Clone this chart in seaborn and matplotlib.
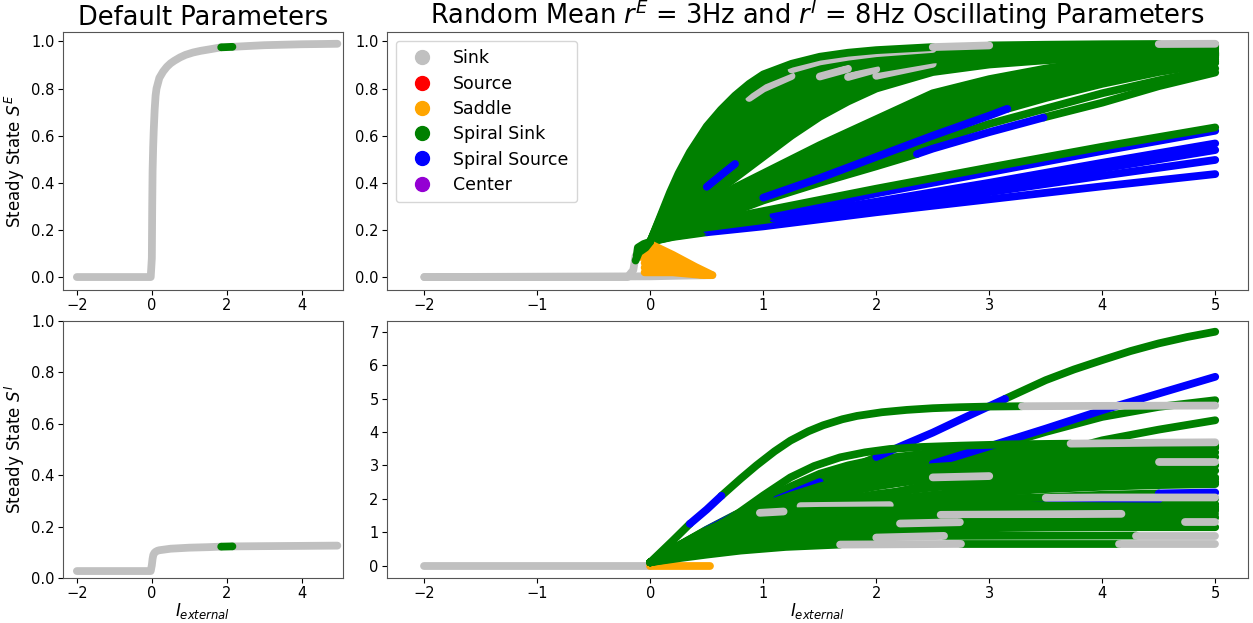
import numpy as np
import pandas as pd
import matplotlib
matplotlib.use("Agg")
import matplotlib.pyplot as plt
from matplotlib.lines import Line2D
import seaborn as sns

# ---------------- data ----------------
STATE_NAMES = {"K": "Sink", "R": "Source", "S": "Saddle", "G": "Spiral Sink",
               "B": "Spiral Source", "C": "Center"}
LEGEND_LABELS = ["Sink", "Source", "Saddle", "Spiral Sink", "Spiral Source", "Center"]
LEGEND_COLORS = ["silver", "red", "orange", "green", "blue", "darkviolet"]

# ---- Default parameters, S^E ----
DEF_E_X = [-2, -0.03, 0, 0.01, 0.02, 0.035, 0.05, 0.075, 0.1, 0.125, 0.2, 0.3, 0.4, 0.5,
           0.6, 0.75, 0.9, 1.1, 1.3, 1.6, 1.85, 2.15, 2.5, 3, 3.5, 4, 4.5, 4.95]
DEF_E_Y = [0, 0, 0.08, 0.3, 0.45, 0.55, 0.62, 0.71, 0.77, 0.8, 0.845, 0.872, 0.892, 0.907,
           0.918, 0.932, 0.943, 0.953, 0.96, 0.968, 0.975, 0.977, 0.98, 0.984, 0.986, 0.988, 0.989, 0.99]
DEF_E_S = "K" * 20 + "G" + "K" * 6
# ---- Default parameters, S^I ----
DEF_I_X = [-2, -0.03, 0, 0.02, 0.04, 0.07, 0.1, 0.15, 0.2, 0.35, 0.5, 0.75, 1, 1.5,
           1.85, 2.15, 3, 4, 4.95]
DEF_I_Y = [0.027, 0.027, 0.05, 0.075, 0.09, 0.098, 0.102, 0.106, 0.108, 0.111, 0.114,
           0.116, 0.118, 0.12, 0.122, 0.123, 0.124, 0.125, 0.126]
DEF_I_S = "K" * 14 + "G" + "K" * 3

# ---- Random parameters, S^E ----
E_LOW_X = [-2, 0, 0.3, 0.55]
E_LOW_Y = [0.0, 0.003, 0.006, 0.008]
E_STEM_X = [-2, -0.2, -0.15, -0.13]
E_STEM_Y = [0.0, 0.0, 0.03, 0.09]
E_BLOB1_X = [-0.12, -0.11, -0.06, 0]
E_BLOB1_Y = [0.09, 0.125, 0.14, 0.15]
E_BLOB2_X = [-0.13, -0.1, -0.04, 0]
E_BLOB2_Y = [0.07, 0.105, 0.125, 0.15]
E_O1_X = [-0.08, 0, 0.2, 0.4, 0.55]
E_O1_Y = [0.125, 0.14, 0.094, 0.043, 0.008]
E_O6_X = [-0.06, 0, 0.2, 0.4, 0.53]
E_O6_Y = [0.105, 0.115, 0.08, 0.037, 0.008]
E_O2_X = [-0.08, 0, 0.2, 0.4, 0.52]
E_O2_Y = [0.085, 0.095, 0.066, 0.03, 0.008]
E_O3_X = [-0.05, 0, 0.2, 0.4, 0.5]
E_O3_Y = [0.06, 0.07, 0.05, 0.022, 0.008]
E_O4_X = [-0.05, 0.05, 0.25, 0.45]
E_O4_Y = [0.04, 0.045, 0.032, 0.01]
E_O5_X = [-0.05, 0.2, 0.48]
E_O5_Y = [0.02, 0.02, 0.008]

GRID_U = [0, 0.05, 0.1, 0.175, 0.25, 0.35, 0.5, 0.625, 0.75, 0.875, 1, 1.25, 1.5, 1.75,
          2, 2.5, 3, 3.5, 4, 4.5, 5]
E_U1_Y = [0.15, 0.21, 0.27, 0.36, 0.44, 0.53, 0.64, 0.71, 0.77, 0.82, 0.86, 0.905, 0.935,
          0.952, 0.963, 0.976, 0.983, 0.986, 0.988, 0.989, 0.99]
E_U1_S = "GGGGGGGGGGGGGGGKGGGK"
E_U1B_Y = [0.15, 0.207, 0.264, 0.348, 0.424, 0.51, 0.615, 0.683, 0.742, 0.792, 0.832, 0.881,
           0.915, 0.935, 0.95, 0.968, 0.976, 0.98, 0.983, 0.984, 0.986]
E_U1B_S = "GGGGGGGGGGGKKKKGGGGG"
E_U2A_Y = [0.15, 0.205, 0.26, 0.342, 0.415, 0.499, 0.601, 0.668, 0.726, 0.776, 0.816, 0.867,
           0.904, 0.926, 0.943, 0.963, 0.973, 0.977, 0.98, 0.982, 0.984]
E_U2_Y = [0.15, 0.203, 0.256, 0.335, 0.406, 0.488, 0.587, 0.653, 0.71, 0.76, 0.8, 0.853,
          0.892, 0.917, 0.935, 0.958, 0.969, 0.974, 0.977, 0.979, 0.981]
E_U2_S = "GGGGGGGGGKKGGGGGGGGG"
E_U3A_Y = [0.15, 0.2, 0.25, 0.324, 0.39, 0.468, 0.563, 0.627, 0.683, 0.732, 0.773, 0.829,
           0.872, 0.901, 0.922, 0.95, 0.963, 0.969, 0.972, 0.975, 0.977]
E_U3_Y = [0.15, 0.197, 0.244, 0.312, 0.374, 0.447, 0.538, 0.6, 0.655, 0.703, 0.745, 0.804,
          0.851, 0.884, 0.909, 0.941, 0.956, 0.963, 0.967, 0.97, 0.972]
E_U3_S = "GGGGGGGGGGGGKGGGGGGG"
E_U4A_Y = [0.15, 0.194, 0.237, 0.3, 0.357, 0.426, 0.512, 0.572, 0.625, 0.673, 0.715, 0.779,
           0.83, 0.867, 0.896, 0.932, 0.949, 0.957, 0.962, 0.965, 0.968]
E_U4_Y = [0.15, 0.19, 0.23, 0.288, 0.34, 0.405, 0.485, 0.543, 0.595, 0.643, 0.685, 0.753,
          0.808, 0.849, 0.882, 0.923, 0.942, 0.951, 0.957, 0.96, 0.963]
E_U4_S = "GGGGGGGGGGGGGKGGGGGG"
E_U5A_Y = [0.15, 0.187, 0.223, 0.276, 0.323, 0.384, 0.459, 0.515, 0.565, 0.613, 0.656, 0.727,
           0.786, 0.831, 0.868, 0.914, 0.935, 0.945, 0.952, 0.955, 0.958]
E_U5_Y = [0.15, 0.183, 0.216, 0.263, 0.306, 0.363, 0.432, 0.486, 0.535, 0.582, 0.626, 0.701,
          0.764, 0.813, 0.854, 0.905, 0.927, 0.938, 0.946, 0.95, 0.953]
E_U5_S = "GGGGGGGGGGGGGGKGGGGG"
E_U6A_Y = [0.15, 0.18, 0.21, 0.252, 0.29, 0.343, 0.408, 0.459, 0.508, 0.554, 0.598, 0.677,
           0.744, 0.797, 0.841, 0.897, 0.921, 0.933, 0.941, 0.946, 0.949]
E_U6_Y = [0.15, 0.177, 0.204, 0.24, 0.274, 0.323, 0.383, 0.432, 0.48, 0.525, 0.57, 0.652,
          0.723, 0.78, 0.828, 0.888, 0.914, 0.927, 0.936, 0.941, 0.944]
E_U6_S = "GGGGGGBBGGGGGGGGGGGG"
E_U7A_Y = [0.15, 0.174, 0.197, 0.228, 0.257, 0.302, 0.357, 0.404, 0.45, 0.495, 0.54, 0.626,
           0.702, 0.763, 0.814, 0.879, 0.907, 0.923, 0.933, 0.938, 0.942]
E_UIN_Y = [0.15, 0.17, 0.19, 0.215, 0.24, 0.28, 0.33, 0.375, 0.42, 0.465, 0.51, 0.6, 0.68,
           0.745, 0.8, 0.87, 0.902, 0.92, 0.932, 0.937, 0.94]
E_UG_S = "G" * 20

GRID_M = [0, 0.1, 0.25, 0.5, 0.75, 1, 1.5, 2, 2.5, 3, 3.5, 4, 4.5, 5]
E_M1_Y = [0.15, 0.18, 0.23, 0.31, 0.38, 0.44, 0.56, 0.67, 0.78, 0.84, 0.885, 0.92, 0.94, 0.955]
E_M1H_Y = [0.15, 0.179, 0.228, 0.305, 0.373, 0.432, 0.55, 0.657, 0.765, 0.83, 0.878, 0.914, 0.937, 0.952]
E_M1B_Y = [0.15, 0.178, 0.226, 0.30, 0.366, 0.425, 0.54, 0.645, 0.75, 0.82, 0.87, 0.908, 0.934, 0.95]
E_M2H_Y = [0.15, 0.176, 0.223, 0.295, 0.358, 0.412, 0.525, 0.63, 0.732, 0.808, 0.862, 0.903, 0.93, 0.948]
E_M2_Y = [0.15, 0.175, 0.22, 0.29, 0.35, 0.40, 0.51, 0.615, 0.715, 0.795, 0.852, 0.896, 0.926, 0.945]
E_M2BH_Y = [0.15, 0.173, 0.217, 0.285, 0.343, 0.392, 0.497, 0.6, 0.697, 0.78, 0.842, 0.889, 0.921, 0.942]
E_M2B_Y = [0.15, 0.172, 0.215, 0.28, 0.337, 0.385, 0.485, 0.585, 0.68, 0.765, 0.83, 0.88, 0.915, 0.938]
E_M2CH_Y = [0.15, 0.171, 0.212, 0.275, 0.33, 0.378, 0.472, 0.57, 0.662, 0.748, 0.815, 0.868, 0.905, 0.932]
E_M2C_Y = [0.15, 0.17, 0.21, 0.27, 0.322, 0.37, 0.46, 0.555, 0.645, 0.73, 0.8, 0.855, 0.895, 0.925]
E_M3H_Y = [0.15, 0.17, 0.205, 0.26, 0.31, 0.355, 0.44, 0.53, 0.62, 0.705, 0.775, 0.835, 0.88, 0.915]
E_M34_Y = [0.15, 0.167, 0.195, 0.243, 0.287, 0.33, 0.41, 0.49, 0.572, 0.65, 0.715, 0.78, 0.835, 0.885]
E_M_S = "G" * 13
E_M3_X = [0, 0.1, 0.25, 0.5, 0.75, 1, 1.5, 2, 2.5, 3, 3.16, 3.5, 4, 4.5, 5]
E_M3_Y = [0.15, 0.17, 0.2, 0.25, 0.295, 0.337, 0.42, 0.51, 0.6, 0.685, 0.714, 0.76, 0.82, 0.87, 0.908]
E_M3_S = "GGGGGBBBBBGGGG"
E_M4_X = [0, 0.1, 0.25, 0.5, 0.75, 1, 1.5, 2, 2.36, 2.5, 3, 3.48, 4, 4.5, 5]
E_M4_Y = [0.15, 0.165, 0.19, 0.235, 0.28, 0.325, 0.4, 0.47, 0.522, 0.545, 0.615, 0.677, 0.74, 0.81, 0.868]
E_M4_S = "GGGGGGGGBBBGGG"
E_L1_X = [0, 0.2, 0.41, 1, 2, 3, 4, 5]
E_L1_Y = [0.15, 0.19, 0.225, 0.28, 0.375, 0.465, 0.553, 0.635]
E_L1_S = "GGGGGGG"
E_L2_X = [0, 0.2, 0.41, 1.09, 2, 3, 4, 5]
E_L2_Y = [0.15, 0.185, 0.215, 0.262, 0.355, 0.445, 0.535, 0.621]
E_L2_S = "GGGBBBB"
E_L3_X = [0, 0.2, 0.41, 1.09, 2, 3, 4, 5]
E_L3_Y = [0.15, 0.18, 0.205, 0.247, 0.32, 0.4, 0.485, 0.567]
E_L3_S = "GGGBBBB"
E_L4_X = [0, 0.2, 0.5, 1, 2, 3, 4, 5]
E_L4_Y = [0.15, 0.175, 0.2, 0.235, 0.31, 0.385, 0.46, 0.539]
E_L5_Y = [0.15, 0.172, 0.195, 0.225, 0.29, 0.36, 0.43, 0.497]
E_L6_Y = [0.15, 0.17, 0.19, 0.215, 0.275, 0.33, 0.385, 0.437]
E_L456_S = "GGBBBBB"

# ---- Random parameters, S^I ----
GRID_I = [0, 0.25, 0.5, 0.75, 1, 1.25, 1.5, 1.75, 2, 2.5, 3, 3.5, 4, 4.5, 5]
I_LOW_X = [-2, 0]
I_LOW_Y = [0.0, 0.0]
I_SAD_X = [0, 0.53]
I_SAD_Y = [0.0, 0.0]
I_A_X = [0, 0.25, 0.49, 0.75, 1.12, 1.5, 1.75, 2, 2.25, 2.5, 2.75, 3.14, 3.5, 3.75, 4, 4.25, 4.5, 4.75, 5]
I_A_Y = [0.1, 0.58, 1.05, 1.5, 1.98, 2.5, 2.88, 3.25, 3.62, 3.98, 4.38, 4.99, 5.55, 5.87,
         6.15, 6.42, 6.65, 6.84, 7.0]
I_A_S = "GGBGBGGBBBBGGGGGGG"
I_B_X = [0, 0.2, 0.35, 0.5, 0.63, 0.8, 0.94, 1.1, 1.24, 1.4, 1.53, 1.7, 1.83, 2.05, 2.27,
         2.5, 2.74, 3.0, 3.29, 4, 5]
I_B_Y = [0.1, 0.75, 1.25, 1.68, 2.09, 2.6, 3.0, 3.42, 3.74, 4.02, 4.2, 4.38, 4.48, 4.59,
         4.66, 4.71, 4.74, 4.76, 4.77, 4.78, 4.79]
I_B_S = "GGBB" + "G" * 14 + "KK"
I_C_Y = [0.1, 0.46, 0.8, 1.12, 1.42, 1.71, 1.98, 2.25, 2.52, 3.05, 3.57, 4.1, 4.65, 5.15, 5.65]
I_C_S = "GGGGGGGGGBBBBB"
I_D_Y = [0.1, 0.5, 0.85, 1.17, 1.47, 1.76, 2.03, 2.28, 2.52, 3.0, 3.5, 4.0, 4.45, 4.75, 4.95]
I_E_Y = [0.1, 0.4, 0.7, 0.97, 1.22, 1.46, 1.68, 1.88, 2.07, 2.45, 2.85, 3.3, 3.75, 4.07, 4.35]
I_F_X = [0, 0.25, 0.5, 0.75, 1, 1.24, 1.45, 1.68, 1.9, 2.12, 2.4, 2.74, 3.2, 3.72, 4.5, 5]
I_F_Y = [0.1, 0.55, 1.0, 1.5, 2.1, 2.64, 2.98, 3.24, 3.39, 3.49, 3.55, 3.59, 3.63, 3.65, 3.68, 3.69]
I_F_S = "G" * 13 + "KK"
I_H0_Y = [0.1, 0.6, 1.08, 1.52, 1.92, 2.28, 2.6, 2.86, 3.07, 3.35, 3.5, 3.57, 3.6, 3.61, 3.62]
I_H0B_Y = [0.1, 0.58, 1.03, 1.45, 1.83, 2.17, 2.47, 2.72, 2.93, 3.22, 3.38, 3.46, 3.5, 3.52, 3.53]
I_H0C_Y = [0.1, 0.57, 1.03, 1.5, 1.95, 2.38, 2.75, 3.0, 3.18, 3.38, 3.48, 3.52, 3.54, 3.55, 3.55]
I_H1_Y = [0.1, 0.55, 0.98, 1.38, 1.75, 2.08, 2.37, 2.62, 2.82, 3.12, 3.3, 3.42, 3.49, 3.52, 3.54]
I_H2_Y = [0.1, 0.5, 0.9, 1.27, 1.6, 1.9, 2.16, 2.4, 2.6, 2.9, 3.12, 3.25, 3.33, 3.37, 3.39]
I_H2B_Y = [0.1, 0.48, 0.85, 1.2, 1.52, 1.8, 2.05, 2.27, 2.47, 2.78, 2.98, 3.1, 3.18, 3.22, 3.25]
I_H3_Y = [0.1, 0.6, 1.05, 1.45, 1.8, 2.1, 2.37, 2.58, 2.75, 2.95, 3.06, 3.08, 3.09, 3.09, 3.09]
I_H3_S = "G" * 13 + "K"
I_H16_Y = [0.1, 0.5, 0.88, 1.22, 1.52, 1.78, 2.0, 2.2, 2.37, 2.62, 2.8, 2.9, 2.96, 2.99, 3.0]
I_H4_Y = [0.1, 0.42, 0.72, 1.0, 1.26, 1.5, 1.72, 1.92, 2.1, 2.38, 2.57, 2.7, 2.78, 2.82, 2.84]
I_H5_Y = [0.1, 0.55, 0.98, 1.36, 1.7, 1.98, 2.2, 2.38, 2.5, 2.64, 2.68, 2.68, 2.66, 2.65, 2.64]
I_H5_S = "GGGGGGGGGKGGGG"
I_H17_Y = [0.1, 0.45, 0.78, 1.06, 1.3, 1.5, 1.67, 1.81, 1.93, 2.12, 2.27, 2.37, 2.44, 2.48, 2.5]
I_H17B_Y = [0.1, 0.47, 0.83, 1.14, 1.4, 1.63, 1.83, 2.0, 2.14, 2.34, 2.45, 2.52, 2.56, 2.58, 2.59]
I_H6_Y = [0.1, 0.4, 0.68, 0.93, 1.15, 1.35, 1.52, 1.67, 1.8, 2.02, 2.18, 2.29, 2.36, 2.41, 2.44]
I_H7_Y = [0.1, 0.38, 0.62, 0.84, 1.02, 1.18, 1.32, 1.45, 1.57, 1.78, 1.94, 2.05, 2.12, 2.16, 2.19]
I_H7_S = "G" * 13 + "B"
I_BT_Y = [0.1, 0.35, 0.58, 0.78, 0.95, 1.12, 1.28, 1.43, 1.56, 1.78, 1.89, 1.93, 1.96, 1.98, 2.0]
I_BT_S = "GGGGBBBBBBBBBG"
I_H8_Y = [0.1, 0.42, 0.75, 1.05, 1.3, 1.5, 1.65, 1.78, 1.88, 1.98, 2.02, 2.03, 2.04, 2.04, 2.04]
I_H8_S = "G" * 11 + "KKK"
I_H9_Y = [0.1, 0.38, 0.62, 0.84, 1.02, 1.18, 1.32, 1.44, 1.54, 1.68, 1.76, 1.8, 1.82, 1.83, 1.84]
I_H18_Y = [0.1, 0.32, 0.52, 0.7, 0.86, 1.0, 1.12, 1.23, 1.32, 1.46, 1.56, 1.62, 1.66, 1.69, 1.7]
I_H13_Y = [0.1, 0.33, 0.54, 0.72, 0.87, 1.0, 1.1, 1.19, 1.26, 1.35, 1.4, 1.42, 1.43, 1.44, 1.44]
I_H15_Y = [0.1, 0.3, 0.47, 0.62, 0.74, 0.84, 0.92, 0.98, 1.03, 1.09, 1.12, 1.14, 1.15, 1.15, 1.15]
I_GRID_S = "G" * 14
I_H10_X = [0, 0.25, 0.5, 0.75, 1, 1.33, 2.12, 2.5, 3, 3.5, 4, 4.5, 5]
I_H10_Y = [0.1, 0.6, 1.05, 1.42, 1.66, 1.78, 1.81, 1.81, 1.8, 1.79, 1.78, 1.77, 1.76]
I_H10_S = "GGGGGKGGGGGG"
I_H11_X = [0, 0.25, 0.5, 0.75, 0.97, 1.18, 1.5, 2, 2.5, 3, 4, 5]
I_H11_Y = [0.1, 0.55, 0.98, 1.35, 1.58, 1.62, 1.64, 1.65, 1.65, 1.65, 1.65, 1.65]
I_H11_S = "GGGGKGGGGGG"
I_H12_X = [0, 0.25, 0.5, 0.75, 1, 1.25, 1.5, 2, 2.57, 4.17, 5]
I_H12_Y = [0.1, 0.35, 0.58, 0.78, 0.95, 1.1, 1.22, 1.4, 1.52, 1.55, 1.55]
I_H12_S = "GGGGGGGGKG"
I_H14_X = [0, 0.25, 0.5, 0.75, 1, 1.25, 1.5, 1.75, 2.21, 2.74, 4.73, 5]
I_H14_Y = [0.1, 0.32, 0.52, 0.7, 0.85, 0.97, 1.07, 1.15, 1.26, 1.3, 1.3, 1.3]
I_H14_S = "GGGGGGGGKGK"
I_Z2_X = [0, 0.25, 0.5, 0.75, 1, 1.25, 1.5, 2, 2.6, 4.3, 5]
I_Z2_Y = [0.1, 0.25, 0.38, 0.5, 0.6, 0.68, 0.75, 0.84, 0.89, 0.9, 0.9]
I_Z2_S = "GGGGGGGKGK"
I_Z1_X = [0, 0.25, 0.5, 0.8, 1.2, 1.68, 2.75, 4.15, 5]
I_Z1_Y = [0.1, 0.22, 0.33, 0.45, 0.56, 0.63, 0.65, 0.65, 0.65]
I_Z1_S = "GGGGGKGK"

# ---------------- drawing ----------------
PALETTE = dict(zip(LEGEND_LABELS, LEGEND_COLORS))
LW = 5.6


def curve_frame(xs, ys, states):
    rows = []
    seg = 0
    i = 0
    n = len(states)
    while i < n:
        j = i
        while j + 1 < n and states[j + 1] == states[i]:
            j += 1
        for k in range(i, j + 2):
            rows.append((seg, xs[k], ys[k], STATE_NAMES[states[i]]))
        seg += 1
        i = j + 1
    return pd.DataFrame(rows, columns=["seg", "x", "y", "state"])


def draw(ax, xs, ys, states, lw=LW):
    df = curve_frame(xs, ys, states)
    sns.lineplot(data=df, x="x", y="y", hue="state", units="seg", estimator=None,
                 sort=False, palette=PALETTE, linewidth=lw, legend=False, ax=ax,
                 solid_capstyle="round", solid_joinstyle="round")


fig = plt.figure(figsize=(12.53, 6.23), dpi=100)
W, H = 1253, 623


def box(l, r, t, b):
    return [l / W, (H - b) / H, (r - l) / W, (b - t) / H]


ax_tl = fig.add_axes(box(63, 343, 32, 290))
ax_tr = fig.add_axes(box(387, 1248, 32, 290))
ax_bl = fig.add_axes(box(63, 343, 321, 578))
ax_br = fig.add_axes(box(387, 1248, 321, 578))

# left column
draw(ax_tl, DEF_E_X, DEF_E_Y, DEF_E_S)
draw(ax_bl, DEF_I_X, DEF_I_Y, DEF_I_S)

# top-right
draw(ax_tr, E_LOW_X, E_LOW_Y, "KKK")
draw(ax_tr, E_STEM_X, E_STEM_Y, "KKK")
for ly in (E_L6_Y, E_L5_Y, E_L4_Y):
    draw(ax_tr, E_L4_X, ly, E_L456_S)
draw(ax_tr, E_L3_X, E_L3_Y, E_L3_S)
draw(ax_tr, E_L2_X, E_L2_Y, E_L2_S)
draw(ax_tr, E_L1_X, E_L1_Y, E_L1_S)
draw(ax_tr, GRID_M, E_M34_Y, E_M_S)
draw(ax_tr, E_M4_X, E_M4_Y, E_M4_S)
for my in (E_M3H_Y, E_M2C_Y, E_M2CH_Y, E_M2B_Y, E_M2BH_Y, E_M2_Y, E_M2H_Y,
           E_M1B_Y, E_M1H_Y, E_M1_Y):
    draw(ax_tr, GRID_M, my, E_M_S)
draw(ax_tr, E_M3_X, E_M3_Y, E_M3_S)
for uy in (E_UIN_Y, E_U7A_Y, E_U6A_Y, E_U5A_Y, E_U4A_Y, E_U3A_Y, E_U2A_Y):
    draw(ax_tr, GRID_U, uy, E_UG_S)
for uy, us in ((E_U6_Y, E_U6_S), (E_U5_Y, E_U5_S), (E_U4_Y, E_U4_S), (E_U3_Y, E_U3_S),
               (E_U2_Y, E_U2_S), (E_U1B_Y, E_U1B_S), (E_U1_Y, E_U1_S)):
    draw(ax_tr, GRID_U, uy, us)
for ox, oy in ((E_O5_X, E_O5_Y), (E_O4_X, E_O4_Y), (E_O3_X, E_O3_Y),
               (E_O2_X, E_O2_Y), (E_O6_X, E_O6_Y), (E_O1_X, E_O1_Y)):
    draw(ax_tr, ox, oy, "S" * (len(ox) - 1))
draw(ax_tr, E_BLOB2_X, E_BLOB2_Y, "GGG")
draw(ax_tr, E_BLOB1_X, E_BLOB1_Y, "GGG")

# bottom-right: plain green branches first, branches with other states on top
draw(ax_br, I_LOW_X, I_LOW_Y, "K")
draw(ax_br, I_SAD_X, I_SAD_Y, "S")
for gy in (I_D_Y, I_E_Y, I_H15_Y, I_H13_Y, I_H18_Y, I_H9_Y, I_H6_Y, I_H17_Y, I_H17B_Y,
           I_H4_Y, I_H16_Y, I_H2B_Y, I_H2_Y, I_H1_Y, I_H0B_Y, I_H0C_Y, I_H0_Y):
    draw(ax_br, GRID_I, gy, I_GRID_S)
draw(ax_br, GRID_I, I_BT_Y, I_BT_S)
draw(ax_br, GRID_I, I_C_Y, I_C_S)
draw(ax_br, I_A_X, I_A_Y, I_A_S)
draw(ax_br, GRID_I, I_H7_Y, I_H7_S)
draw(ax_br, GRID_I, I_H8_Y, I_H8_S)
draw(ax_br, GRID_I, I_H3_Y, I_H3_S)
draw(ax_br, GRID_I, I_H5_Y, I_H5_S)
draw(ax_br, I_H10_X, I_H10_Y, I_H10_S)
draw(ax_br, I_H11_X, I_H11_Y, I_H11_S)
draw(ax_br, I_H12_X, I_H12_Y, I_H12_S)
draw(ax_br, I_H14_X, I_H14_Y, I_H14_S)
draw(ax_br, I_Z2_X, I_Z2_Y, I_Z2_S)
draw(ax_br, I_Z1_X, I_Z1_Y, I_Z1_S)
draw(ax_br, I_F_X, I_F_Y, I_F_S)
draw(ax_br, I_B_X, I_B_Y, I_B_S)

# axes cosmetics
for ax in (ax_tl, ax_bl):
    ax.set_xlim(-2.37, 5.1)
    ax.set_xticks([-2, 0, 2, 4])
for ax in (ax_tr, ax_br):
    ax.set_xlim(-2.33, 5.29)
    ax.set_xticks([-2, -1, 0, 1, 2, 3, 4, 5])
ax_tl.set_ylim(-0.055, 1.04)
ax_tr.set_ylim(-0.055, 1.04)
ax_bl.set_ylim(0, 1.0)
ax_br.set_ylim(-0.37, 7.32)
for ax in (ax_tl, ax_tr, ax_bl):
    ax.set_yticks([0, 0.2, 0.4, 0.6, 0.8, 1.0])
ax_br.set_yticks(range(0, 8))

for ax in (ax_tl, ax_tr, ax_bl, ax_br):
    ax.set_xlabel("")
    ax.set_ylabel("")
    ax.tick_params(labelsize=10.5, pad=2.5)
    for s in ax.spines.values():
        s.set_color("#555555")

ax_tl.set_ylabel("Steady State $S^E$", fontsize=12, labelpad=3)
ax_bl.set_ylabel("Steady State $S^I$", fontsize=12, labelpad=3)
ax_bl.set_xlabel("$I_{external}$", fontsize=12, labelpad=0)
ax_br.set_xlabel("$I_{external}$", fontsize=12, labelpad=0)
ax_tl.set_title("Default Parameters", fontsize=18.5, pad=5)
ax_tr.set_title("Random Mean $r^E$ = 3Hz and $r^I$ = 8Hz Oscillating Parameters",
                fontsize=18.5, pad=5)

handles = [Line2D([], [], marker="o", linestyle="", color=c, markersize=10)
           for c in LEGEND_COLORS]
ax_tr.legend(handles, LEGEND_LABELS, loc="upper left", fontsize=12.5,
             handletextpad=0.8, labelspacing=0.42, borderpad=0.5)

fig.savefig("out.png", dpi=100)
